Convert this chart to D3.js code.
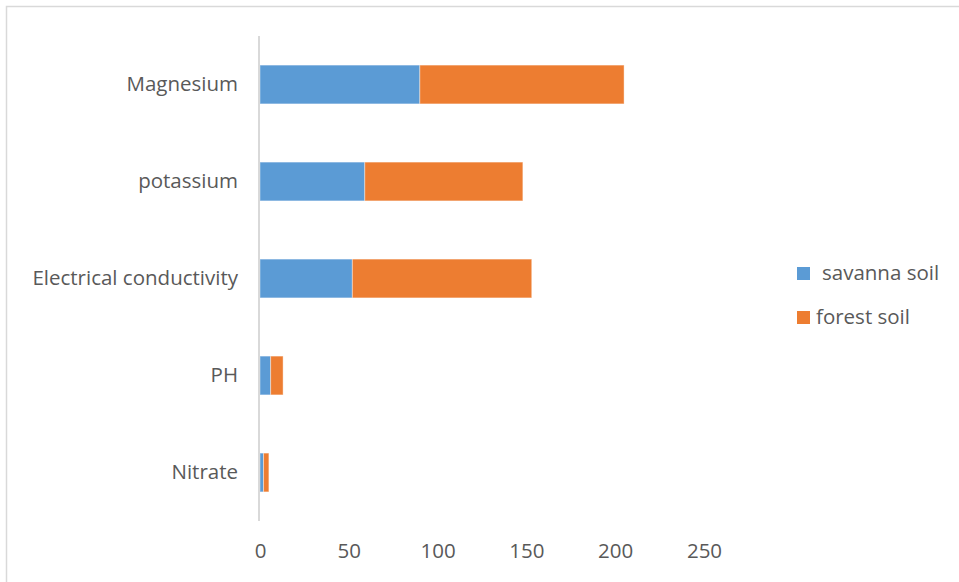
<!DOCTYPE html>
<html lang="en">
<head>
  <meta charset="UTF-8">
  <title>Savanna vs forest soil</title>
  <script src="https://d3js.org/d3.v7.min.js"></script>
  <style>
    body { margin: 0; background: #fff; }
    svg text { font-family: "Open Sans", "Noto Sans", sans-serif; fill: #595959; }
  </style>
</head>
<body>
<svg width="959" height="582"></svg>
<script>
  // data
  const categories = ["Magnesium", "potassium", "Electrical conductivity", "PH", "Nitrate"];
  const savanna = [90, 59, 52, 6, 2];
  const forest = [115, 89, 101, 7, 3];
  const seriesNames = ["savanna soil", "forest soil"];
  const colors = ["#5b9bd5", "#ed7d31"];
  const xTicks = [0, 50, 100, 150, 200, 250];

  const width = 959, height = 582;
  const margin = {top: 36, left: 260, bottom: 61};
  const fontSize = "20.5px";

  const svg = d3.select("svg");

  // outer chart border (cropped on right/bottom)
  svg.append("rect")
    .attr("x", 6.5).attr("y", 6.5)
    .attr("width", width + 10).attr("height", height + 10)
    .attr("fill", "none").attr("stroke", "#d9d9d9").attr("stroke-width", 1.5);

  const rows = categories.map((c, i) => ({cat: c, values: [savanna[i], forest[i]]}));

  const x = d3.scaleLinear().domain([0, 250]).range([margin.left, margin.left + 444]);
  const y = d3.scaleBand().domain(categories)
    .range([margin.top, height - margin.bottom]).paddingInner(0.6).paddingOuter(0.3);

  // stacked bars
  const stack = d3.stack().keys([0, 1]).value((d, k) => d.values[k]);
  const layers = stack(rows);

  svg.append("g").selectAll("g")
    .data(layers)
    .join("g")
      .attr("fill", (d, i) => colors[i])
    .selectAll("rect")
    .data(d => d)
    .join("rect")
      .attr("x", d => x(d[0]))
      .attr("y", d => y(d.data.cat))
      .attr("width", d => x(d[1]) - x(d[0]))
      .attr("height", y.bandwidth())
      .attr("stroke", "#fff").attr("stroke-opacity", 0.4).attr("stroke-width", 1);

  // vertical axis line
  svg.append("line")
    .attr("x1", x(0) - 1).attr("x2", x(0) - 1)
    .attr("y1", margin.top).attr("y2", height - margin.bottom)
    .attr("stroke", "#d9d9d9").attr("stroke-width", 2);

  // category labels
  const yAxis = d3.axisLeft(y).tickSize(0).tickPadding(22);
  svg.append("g")
    .attr("transform", `translate(${x(0)},0)`)
    .call(yAxis)
    .call(g => g.select(".domain").remove())
    .selectAll("text")
      .style("font-size", fontSize)
      .attr("fill", "#595959");

  // value labels
  const xAxis = d3.axisBottom(x).tickValues(xTicks).tickSize(0).tickPadding(22);
  svg.append("g")
    .attr("transform", `translate(0,${height - margin.bottom})`)
    .call(xAxis)
    .call(g => g.select(".domain").remove())
    .selectAll("text")
      .style("font-size", fontSize)
      .attr("fill", "#595959");

  // legend
  const legendX = 797;
  const legendY = [267, 311];
  const legend = svg.append("g").selectAll("g")
    .data(seriesNames)
    .join("g")
      .attr("transform", (d, i) => `translate(${legendX},${legendY[i]})`);
  legend.append("rect")
    .attr("width", 13).attr("height", 13)
    .attr("fill", (d, i) => colors[i]);
  legend.append("text")
    .attr("x", (d, i) => i === 0 ? 25 : 19)
    .attr("y", 13)
    .style("font-size", fontSize)
    .text(d => d);
</script>
</body>
</html>
